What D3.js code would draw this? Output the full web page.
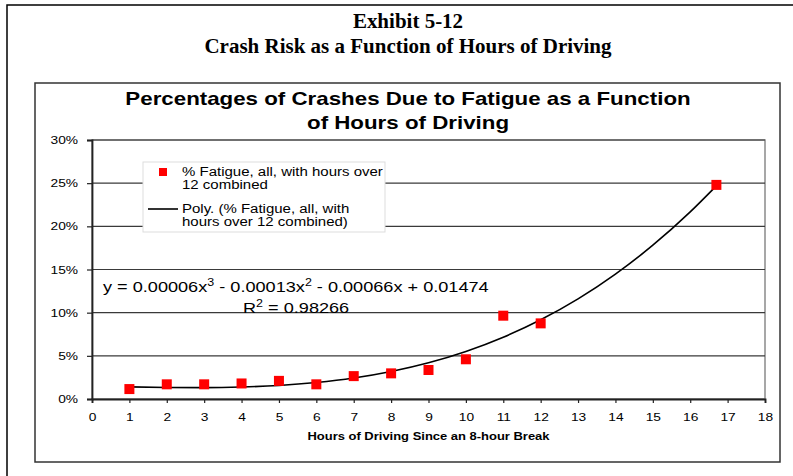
<!DOCTYPE html>
<html><head><meta charset="utf-8">
<script src="https://cdn.jsdelivr.net/npm/d3@7"></script>
<style>
body{margin:0;background:#fff;}
svg{display:block;}
text{font-family:"Liberation Sans",Arial,sans-serif;fill:#000;}
</style></head>
<body>
<svg id="chart" width="793" height="476"></svg>
<script>
// ---- data ----
const hours = [1, 2, 3, 4, 5, 6, 7, 8, 9, 10, 11, 12, 16.7];
const fatiguePct = [0.0115, 0.017, 0.017, 0.018, 0.021, 0.017, 0.0265, 0.0297, 0.0336, 0.046, 0.0965, 0.0876, 0.248];
const trendHours = [1, 2, 3, 4, 5, 6, 7, 8, 9, 10, 11, 12, 13, 14, 15, 16, 16.7];
const trendPct = [0.0140, 0.0134, 0.0132, 0.0139, 0.0157, 0.0191, 0.0243, 0.0319, 0.0420, 0.0551, 0.0716, 0.0918, 0.1160, 0.1447, 0.1781, 0.2167, 0.2469];
const xTicks = d3.range(0, 19);
const yTicks = [0, 0.05, 0.10, 0.15, 0.20, 0.25, 0.30];
const exhibitTitle = ["Exhibit 5-12", "Crash Risk as a Function of Hours of Driving"];
const chartTitle = ["Percentages of Crashes Due to Fatigue as a Function", "of Hours of Driving"];
const xAxisTitle = "Hours of Driving Since an 8-hour Break";
const legendLabels = [["% Fatigue, all, with hours over", "12 combined"], ["Poly. (% Fatigue, all, with", "hours over 12 combined)"]];

const svg = d3.select("#chart");
const plot = {left: 92, right: 765, top: 140, bottom: 399};
const x = d3.scaleLinear().domain([0, 18]).range([plot.left, plot.right]);
const y = d3.scaleLinear().domain([0, 0.30]).range([plot.bottom, plot.top]);

// horizontal stretch of text around its anchor
function stretch(sel, s) {
  sel.each(function() {
    const t = d3.select(this);
    const ax = +t.attr("x") || 0;
    t.attr("x", 0).attr("transform", `translate(${ax},0) scale(${s},1)`);
  });
}

// outer frame
svg.append("rect").attr("x", 7).attr("y", 5).attr("width", 820).attr("height", 500)
  .attr("fill", "none").attr("stroke", "#000").attr("stroke-width", 1.5);

// exhibit titles
exhibitTitle.forEach((t, i) => {
  svg.append("text").attr("x", 408).attr("y", 28 + i * 25).attr("text-anchor", "middle")
    .style("font-family", "'Liberation Serif','Times New Roman',serif").style("font-weight", "bold").style("font-size", "20px")
    .text(t).call(stretch, 1.05);
});

// chart frame
svg.append("rect").attr("x", 35).attr("y", 83).attr("width", 745).attr("height", 379)
  .attr("fill", "#fff").attr("stroke", "#333").attr("stroke-width", 1.5);

// chart title
chartTitle.forEach((t, i) => {
  svg.append("text").attr("x", 408).attr("y", 105 + i * 24).attr("text-anchor", "middle")
    .style("font-weight", "bold").style("font-size", "18px").text(t).call(stretch, 1.24);
});

// plot area border (top/right grey)
svg.append("rect").attr("x", plot.left).attr("y", plot.top)
  .attr("width", plot.right - plot.left).attr("height", plot.bottom - plot.top)
  .attr("fill", "#fff").attr("stroke", "#8a8a8a").attr("stroke-width", 1.5);

// gridlines
svg.append("g").selectAll("line").data(yTicks.filter(d => d > 0)).join("line")
  .attr("x1", plot.left).attr("x2", plot.right)
  .attr("y1", d => y(d)).attr("y2", d => y(d))
  .attr("stroke", "#3a3a3a").attr("stroke-width", 1.2);

// axes
const yAxis = d3.axisLeft(y).tickValues(yTicks).tickFormat(d3.format(".0%")).tickSize(5).tickPadding(9);
const gy = svg.append("g").attr("transform", `translate(${plot.left},0)`).call(yAxis);
gy.select(".domain").attr("stroke", "#222").attr("stroke-width", 1.8);
gy.selectAll(".tick line").attr("stroke", "#222").attr("stroke-width", 1.2);
gy.selectAll("text").style("font-size", "11px").style("font-family", "'Liberation Sans',Arial,sans-serif").attr("fill", "#222").call(stretch, 1.25);

const xAxis = d3.axisBottom(x).tickValues(xTicks).tickFormat(d3.format("d")).tickSize(4).tickPadding(10);
const gx = svg.append("g").attr("transform", `translate(0,${plot.bottom})`).call(xAxis);
gx.select(".domain").attr("stroke", "#222").attr("stroke-width", 1.8);
gx.selectAll(".tick line").attr("stroke", "#222").attr("stroke-width", 1.2);
gx.selectAll("text").style("font-size", "11px").style("font-family", "'Liberation Sans',Arial,sans-serif").attr("fill", "#222").call(stretch, 1.25);

// x axis title
svg.append("text").attr("x", (plot.left + plot.right) / 2).attr("y", 440).attr("text-anchor", "middle")
  .style("font-weight", "bold").style("font-size", "11px").attr("fill", "#222").text(xAxisTitle).call(stretch, 1.18);

// trend line
const line = d3.line().x((d, i) => x(trendHours[i])).y(d => y(d)).curve(d3.curveMonotoneX);
svg.append("path").datum(trendPct).attr("d", line)
  .attr("fill", "none").attr("stroke", "#000").attr("stroke-width", 1.6);

// markers
const ms = 10;
svg.append("g").selectAll("rect").data(fatiguePct).join("rect")
  .attr("x", (d, i) => x(hours[i]) - ms / 2).attr("y", d => y(d) - ms / 2)
  .attr("width", ms).attr("height", ms).attr("fill", "#ff0000");

// equation
svg.append("text").attr("x", 103).attr("y", 292).style("font-size", "14.5px").attr("fill", "#111")
  .html('y = 0.00006x<tspan dy="-6" font-size="10">3</tspan><tspan dy="6"> - 0.00013x</tspan><tspan dy="-6" font-size="10">2</tspan><tspan dy="6"> - 0.00066x + 0.01474</tspan>')
  .call(stretch, 1.25);
svg.append("text").attr("x", 243).attr("y", 313).style("font-size", "14.5px").attr("fill", "#111")
  .html('R<tspan dy="-6" font-size="10">2</tspan><tspan dy="6"> = 0.98266</tspan>')
  .call(stretch, 1.25);

// legend
const lg = svg.append("g");
lg.append("rect").attr("x", 143).attr("y", 162).attr("width", 242).attr("height", 70)
  .attr("fill", "#fff").attr("stroke", "#ddd").attr("stroke-width", 1);
lg.append("rect").attr("x", 159).attr("y", 168).attr("width", 8).attr("height", 8).attr("fill", "#ff0000");
lg.append("line").attr("x1", 148).attr("x2", 178).attr("y1", 209).attr("y2", 209).attr("stroke", "#000").attr("stroke-width", 1.6);
legendLabels.forEach((lines, k) => {
  lines.forEach((t, j) => {
    lg.append("text").attr("x", 182).attr("y", 176 + k * 37 + j * 13)
      .style("font-size", "12px").attr("fill", "#222").text(t).call(stretch, 1.25);
  });
});
</script>
</body></html>
